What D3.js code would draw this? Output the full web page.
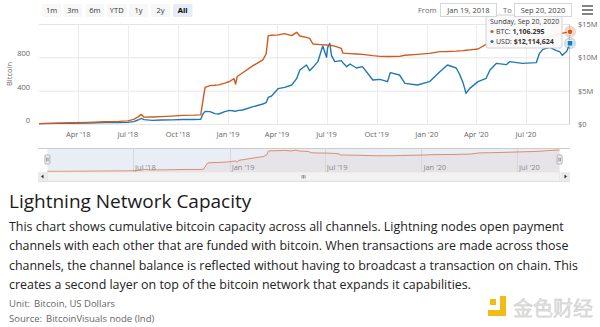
<!DOCTYPE html>
<html><head><meta charset="utf-8">
<script src="https://cdn.jsdelivr.net/npm/d3@7"></script>
<style>
body{margin:0;background:#fff;font-family:"Open Sans",sans-serif;}
svg{display:block}
</style></head><body>
<svg id="c" width="600" height="327"></svg>
<script>
// ---- data ----
const dates = ["2018-01-19","2018-02-20","2018-03-20","2018-04-20","2018-05-20","2018-06-15","2018-07-01","2018-07-12","2018-07-20","2018-07-26","2018-07-31","2018-08-15","2018-09-01","2018-09-20","2018-10-10","2018-10-30","2018-11-12","2018-11-16","2018-11-20","2018-11-29","2018-12-08","2018-12-15","2018-12-26","2019-01-04","2019-01-12","2019-01-15","2019-01-18","2019-01-28","2019-02-16","2019-03-06","2019-03-12","2019-03-16","2019-03-22","2019-04-03","2019-04-15","2019-04-28","2019-05-07","2019-05-13","2019-05-25","2019-05-31","2019-06-06","2019-06-15","2019-06-24","2019-07-01","2019-07-03","2019-07-07","2019-07-10","2019-07-16","2019-07-28","2019-07-31","2019-08-07","2019-08-13","2019-08-25","2019-09-05","2019-09-24","2019-10-07","2019-10-21","2019-10-26","2019-11-12","2019-11-22","2019-12-15","2020-01-06","2020-01-25","2020-02-08","2020-02-24","2020-03-01","2020-03-08","2020-03-13","2020-03-20","2020-04-04","2020-04-19","2020-04-26","2020-05-08","2020-05-26","2020-06-01","2020-06-25","2020-07-20","2020-07-26","2020-08-01","2020-08-14","2020-08-26","2020-09-01","2020-09-06","2020-09-14","2020-09-20"];
const btc = [5,10,15,20,27,32,38,55,85,115,82,84,88,95,103,106,110,280,440,460,465,470,490,510,545,480,570,615,700,770,840,1060,1065,1070,1085,1060,1100,1056,1040,1028,960,955,950,948,946,945,942,935,908,850,848,845,840,836,820,812,810,810,812,825,836,848,868,870,875,878,880,885,890,900,955,960,965,975,980,1000,1020,1025,1030,1045,1068,1080,1090,1100,1106.295];
const usdMillions = [0.06,0.1,0.12,0.16,0.22,0.21,0.25,0.35,0.6,0.85,0.65,0.55,0.6,0.62,0.68,0.68,0.7,1.5,1.9,1.85,1.55,1.5,1.85,2.05,1.95,1.9,2.0,2.1,2.6,3.0,3.2,4.0,4.2,5.3,5.5,5.85,6.8,8.1,8.85,8.0,8.5,9.35,11.7,10.0,11.5,12.1,10.3,9.35,9.5,9.2,8.6,9.0,8.4,8.6,6.6,6.7,6.35,7.7,7.35,6.1,5.85,6.35,7.85,8.85,8.4,7.5,6.1,4.6,5.35,6.35,6.85,8.1,9.1,8.9,9.35,9.1,9.2,10.6,11.2,11.5,11.0,10.85,10.3,10.9,12.114624];
const leftTicks = [0,400,800,1200];
const rightTicks = [0,5e6,10e6,15e6];
const rangeButtons = ["1m","3m","6m","YTD","1y","2y","All"];
const fromLabel = "Jan 19, 2018", toLabel = "Sep 20, 2020";
const tooltipLines = ["Sunday, Sep 20, 2020","BTC: ","1,106.295","USD: ","$12,114,624"];
const titleText = "Lightning Network Capacity";
const paragraph = [
 "This chart shows cumulative bitcoin capacity across all channels. Lightning nodes open payment",
 "channels with each other that are funded with bitcoin. When transactions are made across those",
 "channels, the channel balance is reflected without having to broadcast a transaction on chain. This",
 "creates a second layer on top of the bitcoin network that expands it capabilities."
];
const unitText = ["Unit:", "Bitcoin, US Dollars"];
const sourceText = ["Source:", "BitcoinVisuals node (lnd)"];

const ORANGE = "#d3591c", BLUE = "#1f77b4";
const parse = d3.timeParse("%Y-%m-%d");
const rows = dates.map((d,i)=>({date:parse(d), btc:btc[i], usd:usdMillions[i]*1e6}));

const svg = d3.select("#c");
const plot = {l:39, r:570, t:24, b:124};
const x = d3.scaleTime().domain([parse("2018-01-19"), parse("2020-09-20")]).range([plot.l, plot.r]);
const yL = d3.scaleLinear().domain([0,1200]).range([plot.b, plot.t]);
const yR = d3.scaleLinear().domain([0,15e6]).range([plot.b, plot.t]);
const fmtMonth = d => d3.timeFormat("%b '%y")(d);
const monthTicks = d3.timeMonth.every(3).range(parse("2018-02-01"), parse("2020-09-20"));

// grid
const g = svg.append("g");
g.selectAll("line.h").data(leftTicks).join("line")
 .attr("x1",plot.l).attr("x2",plot.r).attr("y1",d=>yL(d)+0.5).attr("y2",d=>yL(d)+0.5)
 .attr("stroke","#e6e6e6");
g.selectAll("line.v").data(monthTicks).join("line")
 .attr("x1",d=>Math.round(x(d))+0.5).attr("x2",d=>Math.round(x(d))+0.5).attr("y1",plot.t).attr("y2",plot.b)
 .attr("stroke","#ececec");

// axes labels
const axStyle = sel => sel.attr("font-family","'Open Sans',sans-serif").attr("font-size","7.5px").attr("fill","#666");
svg.append("g").selectAll("text").data(leftTicks.filter(d=>d<1200)).join("text")
 .attr("x",30).attr("y",d=>yL(d)-1).attr("text-anchor","end").text(d=>d3.format("d")(d)).call(axStyle);
svg.append("g").selectAll("text").data(rightTicks).join("text")
 .attr("x",578).attr("y",d=>yR(d)+3).attr("text-anchor","start").text(d=>d===0?"$0":"$"+(d/1e6)+"M").call(axStyle);
svg.append("g").selectAll("text").data(monthTicks).join("text")
 .attr("x",d=>x(d)).attr("y",137).attr("text-anchor","middle").text(fmtMonth).call(axStyle);
svg.append("text").attr("transform","translate(12,74) rotate(-90)").attr("text-anchor","middle")
 .text("Bitcoin").call(axStyle);

// lines
const lineB = d3.line().x(d=>x(d.date)).y(d=>yL(d.btc));
const lineU = d3.line().x(d=>x(d.date)).y(d=>yR(d.usd));
svg.append("path").datum(rows).attr("d",lineU).attr("fill","none").attr("stroke",BLUE).attr("stroke-width",1.4).attr("stroke-linejoin","round");
svg.append("path").datum(rows).attr("d",lineB).attr("fill","none").attr("stroke",ORANGE).attr("stroke-width",1.4).attr("stroke-linejoin","round");

// crosshair + markers
const last = rows[rows.length-1];
svg.append("line").attr("x1",x(last.date)-0.5).attr("x2",x(last.date)-0.5).attr("y1",plot.t).attr("y2",plot.b).attr("stroke","#cccccc");
svg.append("circle").attr("cx",x(last.date)).attr("cy",yL(last.btc)).attr("r",6).attr("fill",ORANGE).attr("opacity",0.25);
svg.append("circle").attr("cx",x(last.date)).attr("cy",yL(last.btc)).attr("r",2.8).attr("fill",ORANGE).attr("stroke","#fff").attr("stroke-width",0.8);
svg.append("circle").attr("cx",x(last.date)).attr("cy",yR(last.usd)).attr("r",6).attr("fill",BLUE).attr("opacity",0.25);
svg.append("rect").attr("x",x(last.date)-2.8).attr("y",yR(last.usd)-2.8).attr("width",5.6).attr("height",5.6).attr("fill",BLUE).attr("stroke","#fff").attr("stroke-width",0.8);

// tooltip
const tt = svg.append("g").attr("transform","translate(486,15)");
tt.append("rect").attr("width",76).attr("height",33).attr("rx",2).attr("fill","rgba(250,250,250,0.92)").attr("stroke","#c8c8c8").attr("stroke-width",0.8);
const ttT = s => s.attr("font-family","'Open Sans',sans-serif").attr("font-size","7px").attr("fill","#333");
tt.append("text").attr("x",4).attr("y",9).text(tooltipLines[0]).call(ttT);
tt.append("circle").attr("cx",6).attr("cy",16.5).attr("r",1.6).attr("fill",ORANGE);
const t1 = tt.append("text").attr("x",10).attr("y",19).call(ttT);
t1.append("tspan").text(tooltipLines[1]); t1.append("tspan").attr("font-weight","bold").text(tooltipLines[2]);
tt.append("circle").attr("cx",6).attr("cy",26.5).attr("r",1.6).attr("fill",BLUE);
const t2 = tt.append("text").attr("x",10).attr("y",29).call(ttT);
t2.append("tspan").text(tooltipLines[3]); t2.append("tspan").attr("font-weight","bold").text(tooltipLines[4]);

// range selector buttons
const btnX = [42,63.5,85.5,107,129,151,173];
const bw = [19,18.5,18.5,19.5,19,19,19.5];
rangeButtons.forEach((b,i)=>{
  const sel = b==="All";
  svg.append("rect").attr("x",btnX[i]).attr("y",4).attr("width",bw[i]).attr("height",13).attr("rx",1.5)
   .attr("fill",sel?"#e6ebf5":"#f7f7f7");
  svg.append("text").attr("x",btnX[i]+bw[i]/2).attr("y",13.3).attr("text-anchor","middle")
   .attr("font-family","'Open Sans',sans-serif").attr("font-size","7.5px").attr("font-weight",sel?"bold":"normal")
   .attr("fill",sel?"#000":"#333").text(b);
});
svg.append("text").attr("x",418).attr("y",13).attr("font-family","'Open Sans',sans-serif").attr("font-size","7.5px").attr("fill","#666").text("From");
svg.append("rect").attr("x",440.5).attr("y",3.5).attr("width",56).attr("height",13).attr("fill","#fff").attr("stroke","#cccccc").attr("stroke-width",0.8);
svg.append("text").attr("x",468.5).attr("y",13).attr("text-anchor","middle").attr("font-family","'Open Sans',sans-serif").attr("font-size","7.5px").attr("fill","#444").text(fromLabel);
svg.append("text").attr("x",503).attr("y",13).attr("font-family","'Open Sans',sans-serif").attr("font-size","7.5px").attr("fill","#666").text("To");
svg.append("rect").attr("x",514.5).attr("y",3.5).attr("width",57).attr("height",13).attr("fill","#fff").attr("stroke","#cccccc").attr("stroke-width",0.8);
svg.append("text").attr("x",543).attr("y",13).attr("text-anchor","middle").attr("font-family","'Open Sans',sans-serif").attr("font-size","7.5px").attr("fill","#444").text(toLabel);
[6,10,14].forEach(yy=>svg.append("rect").attr("x",582).attr("y",yy-0.8).attr("width",11).attr("height",1.6).attr("fill","#666"));

// navigator
const nav = {l:38, r:570, t:148, b:172};
const xN = d3.scaleTime().domain(x.domain()).range([47.4, 559.6]);
const yN = d3.scaleLinear().domain([0, d3.max(btc)]).range([171.5, 150]);
svg.append("rect").attr("x",47.4).attr("y",nav.t).attr("width",559.6-47.4).attr("height",nav.b-nav.t).attr("fill","#e9edf6");
svg.append("path").datum(rows).attr("d",d3.area().x(d=>xN(d.date)).y0(nav.b).y1(d=>yN(d.btc))).attr("fill",ORANGE).attr("opacity",0.06);
const navTicks = d3.timeMonth.every(6).range(parse("2018-07-01"), parse("2020-09-20"));
svg.selectAll("line.nv").data(navTicks).join("line").attr("x1",d=>Math.round(xN(d))+0.5).attr("x2",d=>Math.round(xN(d))+0.5)
 .attr("y1",nav.t).attr("y2",nav.b).attr("stroke","#d8d8d8");
svg.append("g").selectAll("text").data(navTicks).join("text").attr("x",d=>xN(d)+2).attr("y",169.5)
 .text(fmtMonth).call(axStyle).attr("fill","#888");
svg.append("path").datum(rows).attr("d",d3.line().x(d=>xN(d.date)).y(d=>yN(d.btc))).attr("fill","none").attr("stroke",ORANGE).attr("stroke-width",0.8).attr("opacity",0.8);
svg.append("line").attr("x1",nav.l).attr("x2",nav.r).attr("y1",nav.t+0.5).attr("y2",nav.t+0.5).attr("stroke","#cccccc");
[47.4,559.6].forEach(hx=>{
  svg.append("rect").attr("x",hx-2.5).attr("y",155).attr("width",5).attr("height",9).attr("rx",1).attr("fill","#f2f2f2").attr("stroke","#999").attr("stroke-width",0.7);
  svg.append("line").attr("x1",hx-0.7).attr("x2",hx-0.7).attr("y1",157.5).attr("y2",161.5).attr("stroke","#333").attr("stroke-width",0.5);
  svg.append("line").attr("x1",hx+0.7).attr("x2",hx+0.7).attr("y1",157.5).attr("y2",161.5).attr("stroke","#333").attr("stroke-width",0.5);
});
// scrollbar
svg.append("rect").attr("x",nav.l).attr("y",172).attr("width",nav.r-nav.l).attr("height",9).attr("fill","#f2f2f2");
svg.append("rect").attr("x",47.4).attr("y",172).attr("width",559.6-47.4).attr("height",9).attr("fill","#f2f2f2").attr("stroke","#e0e0e0").attr("stroke-width",0.5);
svg.append("rect").attr("x",nav.l).attr("y",172).attr("width",9).attr("height",9).attr("fill","#ebebeb");
svg.append("rect").attr("x",nav.r-9).attr("y",172).attr("width",9).attr("height",9).attr("fill","#ebebeb");
svg.append("path").attr("d",`M${nav.l+5.5},174.5 L${nav.l+3},176.5 L${nav.l+5.5},178.5Z`).attr("fill","#333");
svg.append("path").attr("d",`M${nav.r-5.5},174.5 L${nav.r-3},176.5 L${nav.r-5.5},178.5Z`).attr("fill","#333");
[-1.5,0,1.5].forEach(o=>svg.append("line").attr("x1",303.5+o).attr("x2",303.5+o).attr("y1",175).attr("y2",178.5).attr("stroke","#333").attr("stroke-width",0.5));
svg.append("line").attr("x1",nav.l).attr("x2",nav.r).attr("y1",181.5).attr("y2",181.5).attr("stroke","#e0e0e0");

// text block
svg.append("text").attr("x",9).attr("y",208).attr("font-family","'Open Sans',sans-serif").attr("font-size","19px").attr("fill","#1a1a1a").text(titleText);
svg.append("g").selectAll("text").data(paragraph).join("text").attr("x",9).attr("y",(d,i)=>231+i*19.3)
 .attr("font-family","'Open Sans',sans-serif").attr("font-size","12.45px").attr("fill","#222").text(d=>d);
const small = s => s.attr("font-family","'Open Sans',sans-serif").attr("font-size","9.5px").attr("fill","#666");
const u = svg.append("text").attr("x",9).attr("y",307).call(small);
u.append("tspan").text(unitText[0]); u.append("tspan").attr("dx",4).text(unitText[1]);
const s2 = svg.append("text").attr("x",9).attr("y",322).call(small);
s2.append("tspan").text(sourceText[0]); s2.append("tspan").attr("dx",4).text(sourceText[1]);

// watermark
const wm = svg.append("g").attr("opacity",0.9);
wm.append("rect").attr("x",490).attr("y",299).attr("width",6).attr("height",6).attr("fill","#f0b400");
wm.append("path").attr("d","M500,296 h6 v20 h-18 v-6 h12z").attr("fill","#f0b400");
wm.append("text").attr("x",513).attr("y",316).attr("font-family","'Noto Sans CJK SC',sans-serif").attr("font-size","20px").attr("fill","#e2e2e2").attr("stroke","#bbb").attr("stroke-width",0.4).text("金色财经");
</script>
</body></html>
